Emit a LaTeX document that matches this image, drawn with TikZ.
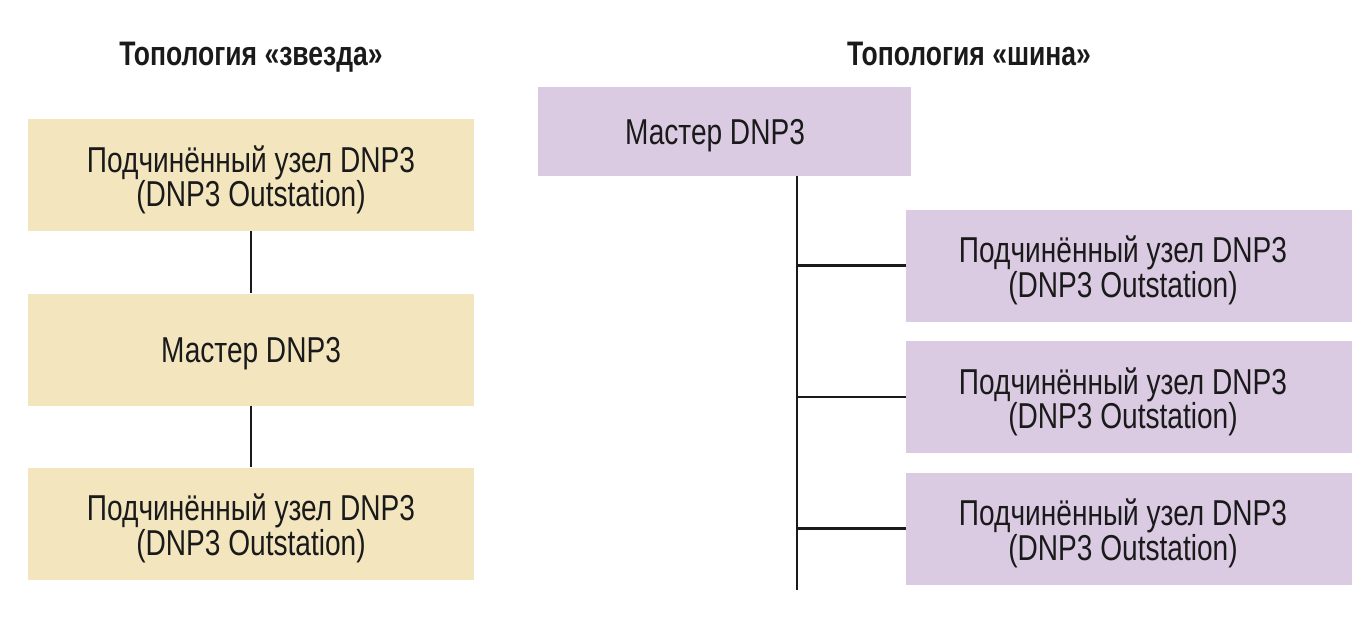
\documentclass[tikz,border=0pt]{standalone}
\usepackage{fontspec}
\setmainfont{Liberation Sans}[FakeStretch=0.78]
\definecolor{beige}{HTML}{F3E6BF}
\definecolor{lav}{HTML}{DACBE3}
\definecolor{ink}{HTML}{1A1A1A}
\tikzset{
  starbox/.style={fill=beige, draw=none, minimum width=446pt, minimum height=112pt, inner sep=0pt},
  busbox/.style={fill=lav, draw=none, minimum width=446pt, minimum height=112pt, inner sep=0pt},
  txt/.style={inner sep=0pt, align=center, text=ink, font=\fontsize{36}{32}\selectfont},
  ttl/.style={anchor=base, inner sep=0pt, text=ink, font=\fontsize{34}{36}\selectfont\bfseries},
  wire/.style={draw=ink, line width=2.1pt}
}
\begin{document}
\begin{tikzpicture}[x=1pt,y=-1pt]
\useasboundingbox (0,0) rectangle (1370,622);
% titles
\node[ttl] (t1) at (251,65) {Топология «звезда»};
\node[ttl] (t2) at (969,65) {Топология «шина»};
% star topology
\node[starbox] (s1) at (251,175) {};
\node[starbox] (sm) at (251,349.5) {};
\node[starbox] (s3) at (251,523.5) {};
\node[txt] (s1t) at ([yshift=-5pt]s1.center) {Подчинённый узел DNP3\\(DNP3 Outstation)};
\node[txt] (smt) at ([yshift=-4pt]sm.center) {Мастер DNP3};
\node[txt] (s3t) at ([yshift=-5pt]s3.center) {Подчинённый узел DNP3\\(DNP3 Outstation)};
\draw[wire] (s1.south) -- (sm.north);
\draw[wire] (sm.south) -- (s3.north);
% bus topology
\node[busbox, minimum width=373pt, minimum height=89pt] (bm) at (724.5,131.5) {};
\node[busbox] (b1) at (1129,265.5) {};
\node[busbox] (b2) at (1129,397) {};
\node[busbox] (b3) at (1129,528.5) {};
\node[txt] (bmt) at ([xshift=-9.5pt,yshift=-4pt]bm.center) {Мастер DNP3};
\node[txt] (b1t) at ([xshift=-6pt,yshift=-5pt]b1.center) {Подчинённый узел DNP3\\(DNP3 Outstation)};
\node[txt] (b2t) at ([xshift=-6pt,yshift=-5pt]b2.center) {Подчинённый узел DNP3\\(DNP3 Outstation)};
\node[txt] (b3t) at ([xshift=-6pt,yshift=-5pt]b3.center) {Подчинённый узел DNP3\\(DNP3 Outstation)};
\coordinate (btop) at (797,176);
\coordinate (bend) at (797,590);
\draw[wire] (btop) -- (bend);
\draw[wire] (btop |- b1.west) -- (b1.west);
\draw[wire] (btop |- b2.west) -- (b2.west);
\draw[wire] (btop |- b3.west) -- (b3.west);
\end{tikzpicture}
\end{document}
